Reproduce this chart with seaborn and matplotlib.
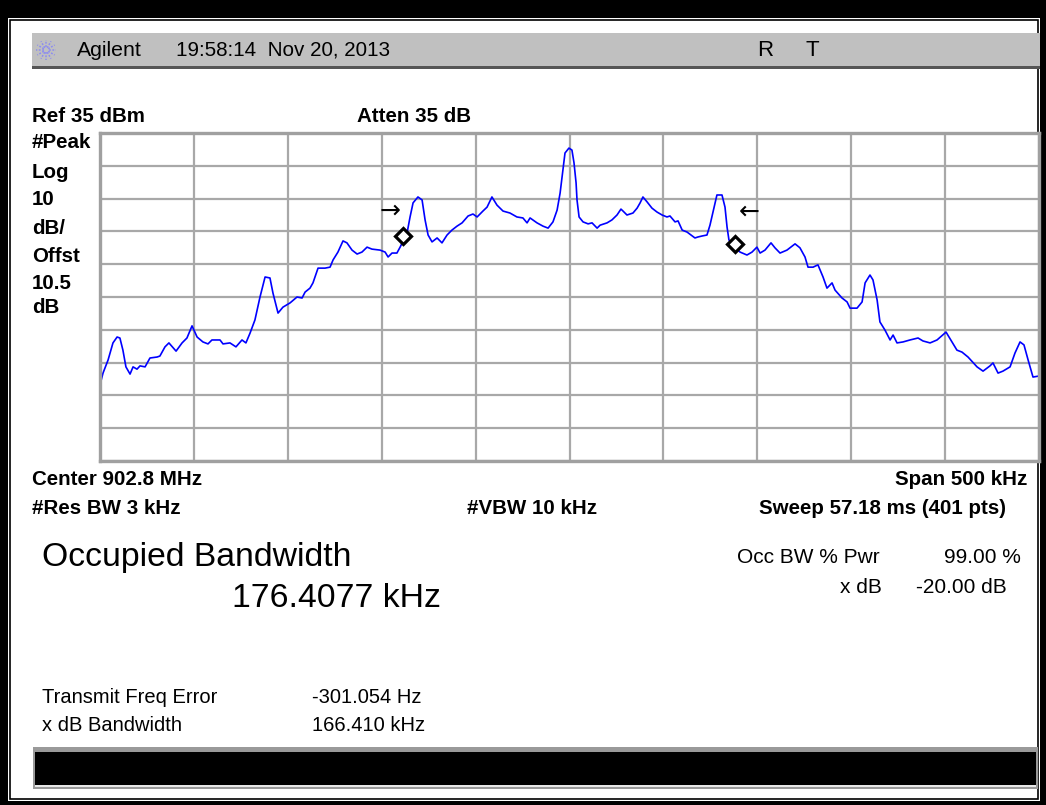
import numpy as np
import matplotlib
matplotlib.use("Agg")
import matplotlib.pyplot as plt
from matplotlib.patches import Rectangle
import seaborn as sns

# ---- trace data (frequency offset from 902.8 MHz in kHz, level in dBm) ----
freq_khz = [-250.0, -248.4, -245.7, -243.1, -240.9, -239.4, -237.8, -236.2, -234.0, -232.4,
            -230.3, -228.7, -226.0, -223.4, -219.6, -218.1, -215.4, -213.3, -209.5, -206.3,
            -203.7, -201.0, -198.3, -195.2, -192.5, -190.4, -186.1, -184.5, -180.8, -177.6,
            -174.4, -172.3, -170.1, -167.5, -164.8, -162.1, -159.5, -157.9, -155.2, -152.6,
            -148.8, -145.1, -142.4, -140.8, -138.2, -136.6, -133.9, -130.2, -127.5, -125.9,
            -123.3, -120.6, -118.5, -115.8, -113.1, -110.5, -107.8, -105.2, -100.9, -98.2,
            -96.6, -94.5, -91.9, -90.2, -86.5, -84.9, -83.3, -80.7, -78.5, -76.9,
            -75.3, -73.2, -70.5, -67.9, -65.2, -62.6, -59.9, -57.2, -54.0, -51.4,
            -49.2, -46.1, -43.9, -41.3, -38.6, -35.4, -31.7, -28.0, -24.8, -22.6,
            -21.0, -17.3, -14.1, -11.4, -8.8, -6.6, -5.0, -3.5, -2.4, -0.3,
            1.3, 2.4, 3.5, 4.0, 5.1, 7.2, 9.9, 12.0, 14.7, 16.3,
            20.0, 22.6, 25.3, 27.4, 28.5, 30.6, 33.8, 36.0, 37.6, 39.1,
            41.3, 43.9, 46.6, 49.3, 51.9, 53.5, 56.2, 57.8, 60.0, 62.6,
            64.7, 66.8, 68.4, 70.6, 73.2, 74.8, 77.0, 78.5, 81.2, 82.8,
            83.9, 84.9, 87.6, 90.8, 94.5, 97.2, 99.8, 101.5, 104.1, 107.3,
            109.4, 112.1, 115.8, 120.1, 122.7, 125.4, 127.0, 129.7, 132.3, 135.0,
            137.1, 139.8, 141.4, 145.1, 147.8, 149.4, 153.1, 155.8, 157.4, 160.0,
            161.6, 163.8, 165.3, 168.0, 170.7, 172.3, 174.4, 177.6, 181.3, 185.6,
            188.2, 192.0, 195.7, 200.5, 203.7, 206.3, 209.0, 212.2, 217.0, 220.2,
            223.9, 225.5, 228.2, 230.8, 234.6, 237.2, 239.9, 242.0, 244.2, 246.8,
            250.0]
level_dbm = [-41.8, -38.2, -34.2, -29.0, -27.2, -27.5, -31.2, -36.3, -38.5, -36.3,
             -37.0, -36.0, -36.3, -33.6, -33.3, -33.0, -30.2, -29.0, -31.5, -29.0,
             -27.5, -23.8, -27.2, -28.7, -29.3, -28.1, -28.1, -29.3, -29.0, -30.2,
             -28.1, -29.0, -26.0, -22.0, -15.0, -8.9, -9.2, -13.8, -19.9, -18.1,
             -16.8, -15.0, -15.3, -13.5, -12.3, -10.7, -6.2, -6.2, -5.9, -3.7,
             -1.3, 2.1, 1.5, -0.7, -1.9, -1.3, 0.2, -0.4, -0.7, -1.3,
             -2.8, -1.6, -1.6, 0.2, 4.5, 9.4, 13.7, 15.5, 14.6, 8.5,
             3.9, 1.8, 3.0, 1.5, 3.9, 5.4, 6.6, 7.6, 9.7, 10.3,
             9.4, 11.2, 12.4, 15.5, 13.0, 11.2, 10.6, 9.4, 9.1, 7.6,
             9.1, 7.6, 6.6, 6.0, 7.9, 11.5, 16.7, 23.7, 28.9, 30.4,
             29.8, 25.9, 19.8, 14.6, 9.4, 7.9, 7.3, 7.6, 6.0, 6.9,
             7.6, 8.5, 10.0, 11.8, 11.2, 10.0, 10.6, 12.1, 13.7, 15.5,
             14.0, 12.1, 10.9, 10.0, 9.4, 9.7, 7.9, 8.2, 5.4, 4.8,
             3.9, 3.0, 3.3, 3.6, 3.9, 6.9, 12.4, 16.1, 16.1, 12.4,
             6.3, 2.4, 0.5, -1.3, -2.2, -1.3, 0.2, -1.6, -0.7, 1.5,
             0.0, -1.6, -0.7, 1.2, 0.0, -2.8, -5.9, -5.9, -5.2, -8.9,
             -12.3, -10.7, -12.9, -15.3, -16.5, -18.4, -18.4, -16.5, -10.7, -8.3,
             -9.8, -15.9, -22.6, -25.1, -28.1, -26.6, -29.0, -28.7, -28.1, -27.5,
             -28.4, -29.0, -28.1, -25.7, -28.7, -31.2, -31.8, -33.3, -36.3, -37.6,
             -36.0, -35.1, -38.2, -37.6, -36.3, -32.1, -28.7, -29.6, -34.2, -39.4,
             -39.1]

# occupied-bandwidth markers
marker_freq = [-88.5, 87.9]
marker_level = [3.6, 1.2]
arrow_freq = [-95.6, 95.6]
arrow_level = [11.2, 10.9]
arrow_text = ["\u2192", "\u2190"]

# axis settings
ref_level = 35
db_per_div = 10
span_khz = 500

# ---- text content ----
header_brand = "Agilent"
header_time = "19:58:14  Nov 20, 2013"
left_labels = ["#Peak", "Log", "10", "dB/", "Offst", "10.5", "dB"]

W, H = 1046, 805
fig = plt.figure(figsize=(W / 100, H / 100), dpi=100)
fig.patch.set_facecolor("black")

FONT = ["Liberation Sans", "DejaVu Sans"]

bg = fig.add_axes([0, 0, 1, 1], zorder=0)
bg.set_xlim(0, W)
bg.set_ylim(H, 0)
bg.axis("off")

# window frame
bg.add_patch(Rectangle((8, 18), 1032, 783, facecolor="white", edgecolor="none"))
bg.add_patch(Rectangle((10, 20), 1028, 779, facecolor="none", edgecolor="black", lw=1.2))
# header bar
bg.add_patch(Rectangle((32, 33), 1008, 34, facecolor="#c0c0c0", edgecolor="none"))
bg.add_patch(Rectangle((32, 66.5), 1008, 2.5, facecolor="#555555", edgecolor="none"))
# status bar at the bottom
bg.add_patch(Rectangle((33, 747), 1005, 42, facecolor="#9a9a9a", edgecolor="none"))
bg.add_patch(Rectangle((35, 752), 1001, 33, facecolor="black", edgecolor="none"))
bg.add_patch(Rectangle((35, 785), 1001, 2, facecolor="#e8e8e8", edgecolor="none"))

# Agilent spark icon
cx, cy = 46, 50
for ang in np.arange(0, 360, 30):
    a = np.deg2rad(ang)
    bg.plot([cx + 2.5 * np.cos(a), cx + 10 * np.cos(a)],
            [cy + 2.5 * np.sin(a), cy + 10 * np.sin(a)],
            color="#8c8cf0", lw=1.1, ls=(0, (1.2, 1.0)))

def t(x, y, s, size, weight="normal", ha="left", color="black"):
    bg.text(x, y, s, fontsize=size, fontweight=weight, ha=ha, va="center",
            family=FONT, color=color)

t(77, 50, header_brand, 15.3)
t(176, 50, header_time, 14.9)
t(757, 51, "R", 16)
t(805, 51, "T", 16)

BOLD = 14.8
t(32, 117, "Ref 35 dBm", BOLD, "bold")
t(357, 117, "Atten 35 dB", BOLD, "bold")
ys = [143, 172, 199, 228, 256, 283, 307]
for s, y in zip(left_labels, ys):
    t(32, y, s, BOLD, "bold")

t(32, 479, "Center 902.8 MHz", BOLD, "bold")
t(1027, 479, "Span 500 kHz", BOLD, "bold", ha="right")
t(32, 508, "#Res BW 3 kHz", BOLD, "bold")
t(467, 508, "#VBW 10 kHz", BOLD, "bold")
t(1006, 508, "Sweep 57.18 ms (401 pts)", BOLD, "bold", ha="right")

t(42, 557, "Occupied Bandwidth", 24.3)
t(232, 598, "176.4077 kHz", 24.3)
t(737, 557, "Occ BW % Pwr", 15)
t(1021, 557, "99.00 %", 15, ha="right")
t(882, 587, "x dB", 15, ha="right")
t(1007, 587, "-20.00 dB", 15, ha="right")

t(42, 697, "Transmit Freq Error", 14.5)
t(312, 697, "-301.054 Hz", 14.5)
t(42, 725, "x dB Bandwidth", 14.5)
t(312, 725, "166.410 kHz", 14.5)

# ---- the spectrum plot ----
ax = fig.add_axes([100 / W, 1 - 461 / H, 939 / W, 328 / H], zorder=2)
ax.set_facecolor("white")
sns.lineplot(x=freq_khz, y=level_dbm, ax=ax, color="#0000ff", lw=1.2, sort=False)
ax.plot(marker_freq, marker_level, ls="none", marker="D", ms=8, mfc="white",
        mec="black", mew=2.3, zorder=5)
for fx, ly, s in zip(arrow_freq, arrow_level, arrow_text):
    ax.text(fx, ly, s, fontsize=18, ha="center", va="center", family="DejaVu Sans",
            color="black")

ax.set_xlim(-span_khz / 2, span_khz / 2)
ax.set_ylim(ref_level - 10 * db_per_div, ref_level)
ax.set_xticks(np.linspace(-span_khz / 2, span_khz / 2, 11))
ax.set_yticks(np.arange(ref_level - 10 * db_per_div, ref_level + 1, db_per_div))
ax.tick_params(length=0, labelbottom=False, labelleft=False)
ax.grid(True, color="#a8a8a8", lw=1.6)
ax.set_axisbelow(True)
for sp in ax.spines.values():
    sp.set_color("#a0a0a0")
    sp.set_linewidth(2.4)
ax.set_xlabel("")
ax.set_ylabel("")

fig.savefig("out.png", dpi=100, facecolor=fig.get_facecolor())
